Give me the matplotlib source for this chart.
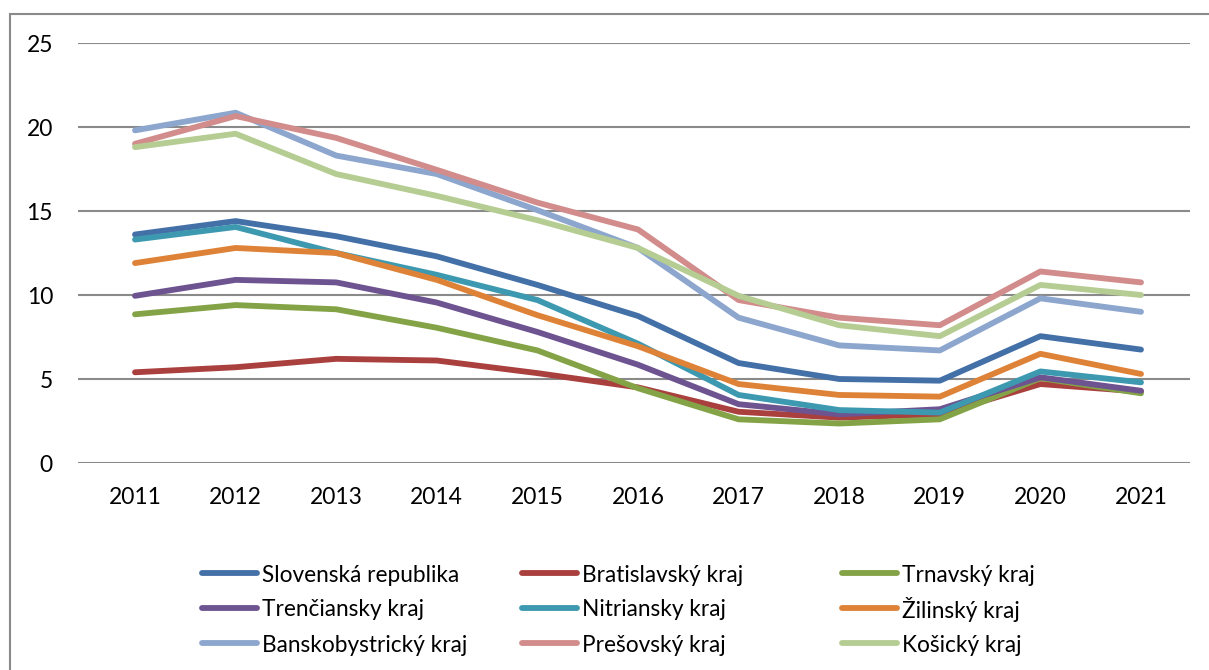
import matplotlib
matplotlib.use("Agg")
import matplotlib.pyplot as plt
from matplotlib.patches import Rectangle
from matplotlib.lines import Line2D

plt.rcParams['font.family'] = ['Lato', 'DejaVu Sans']

years = list(range(2011, 2022))

series_names = [
    "Slovenská republika", "Bratislavský kraj", "Trnavský kraj",
    "Trenčiansky kraj", "Nitriansky kraj", "Žilinský kraj",
    "Banskobystrický kraj", "Prešovský kraj", "Košický kraj",
]

slovenska_republika = [13.6, 14.4, 13.5, 12.3, 10.6, 8.75, 5.95, 5.0, 4.9, 7.55, 6.75]
bratislavsky = [5.4, 5.7, 6.2, 6.1, 5.35, 4.5, 3.05, 2.7, 2.9, 4.7, 4.25]
trnavsky = [8.85, 9.4, 9.15, 8.05, 6.7, 4.45, 2.6, 2.35, 2.6, 5.05, 4.15]
trenciansky = [9.95, 10.9, 10.75, 9.55, 7.8, 5.85, 3.5, 2.9, 3.2, 5.1, 4.3]
nitriansky = [13.3, 14.05, 12.5, 11.2, 9.7, 7.1, 4.05, 3.15, 3.0, 5.45, 4.8]
zilinsky = [11.9, 12.8, 12.5, 10.9, 8.8, 6.95, 4.7, 4.05, 3.95, 6.5, 5.3]
banskobystricky = [19.8, 20.85, 18.3, 17.2, 15.05, 12.8, 8.65, 7.0, 6.7, 9.8, 9.0]
presovsky = [19.0, 20.65, 19.35, 17.45, 15.5, 13.9, 9.7, 8.65, 8.2, 11.4, 10.75]
kosicky = [18.8, 19.6, 17.2, 15.9, 14.45, 12.8, 9.95, 8.2, 7.55, 10.6, 10.0]

series_values = [
    slovenska_republika, bratislavsky, trnavsky,
    trenciansky, nitriansky, zilinsky,
    banskobystricky, presovsky, kosicky,
]

colors = [
    "#4470A8", "#A9403E", "#83A346",
    "#6E5391", "#3D99B0", "#DE8237",
    "#8DA6CE", "#D18C8B", "#B5CC92",
]

y_ticks = [0, 5, 10, 15, 20, 25]

W, H = 1209, 670
fig = plt.figure(figsize=(W / 100, H / 100), dpi=100)
ax = fig.add_axes([78 / W, 1 - 463 / H, (1190 - 78) / W, (463 - 43) / H])

for name, vals, col in zip(series_names, series_values, colors):
    ax.plot(years, vals, color=col, linewidth=4.2, solid_capstyle='round',
            solid_joinstyle='round', label=name, zorder=3)

ax.set_ylim(0, 25)
ax.set_xlim(2011 - 57 / 100.6, 2021 + 49 / 100.6)
ax.set_yticks(y_ticks)
ax.set_xticks(years)
ax.set_xticklabels([str(y) for y in years])
ax.yaxis.grid(True, color="#8A8A8A", linewidth=1.5, zorder=1)
ax.xaxis.grid(False)
for s in ax.spines.values():
    s.set_visible(False)
ax.tick_params(axis='both', length=0, labelsize=16.5, colors='black')
ax.tick_params(axis='y', pad=18)
ax.tick_params(axis='x', pad=17)

# outer chart frame
fig.patches.append(Rectangle((10 / W, -0.05), 1.1, 1 - 14 / H + 0.05,
                             transform=fig.transFigure, fill=False,
                             edgecolor="#8A8A8A", linewidth=1.5))

# legend: three columns filled row by row, evenly spaced rows
col_x = [202, 522, 842]
row_y = [573, 608, 643]
handle_len = 55
for i, (name, col) in enumerate(zip(series_names, colors)):
    r, c = divmod(i, 3)
    x0 = col_x[c]
    y0 = 1 - row_y[r] / H
    fig.add_artist(Line2D([x0 / W, (x0 + handle_len) / W], [y0, y0],
                          transform=fig.transFigure, color=col,
                          linewidth=4.2, solid_capstyle='round'))
    fig.text((x0 + handle_len + 5) / W, y0, name, fontsize=16.3,
             ha='left', va='center_baseline')

fig.savefig("out.png", dpi=100)
